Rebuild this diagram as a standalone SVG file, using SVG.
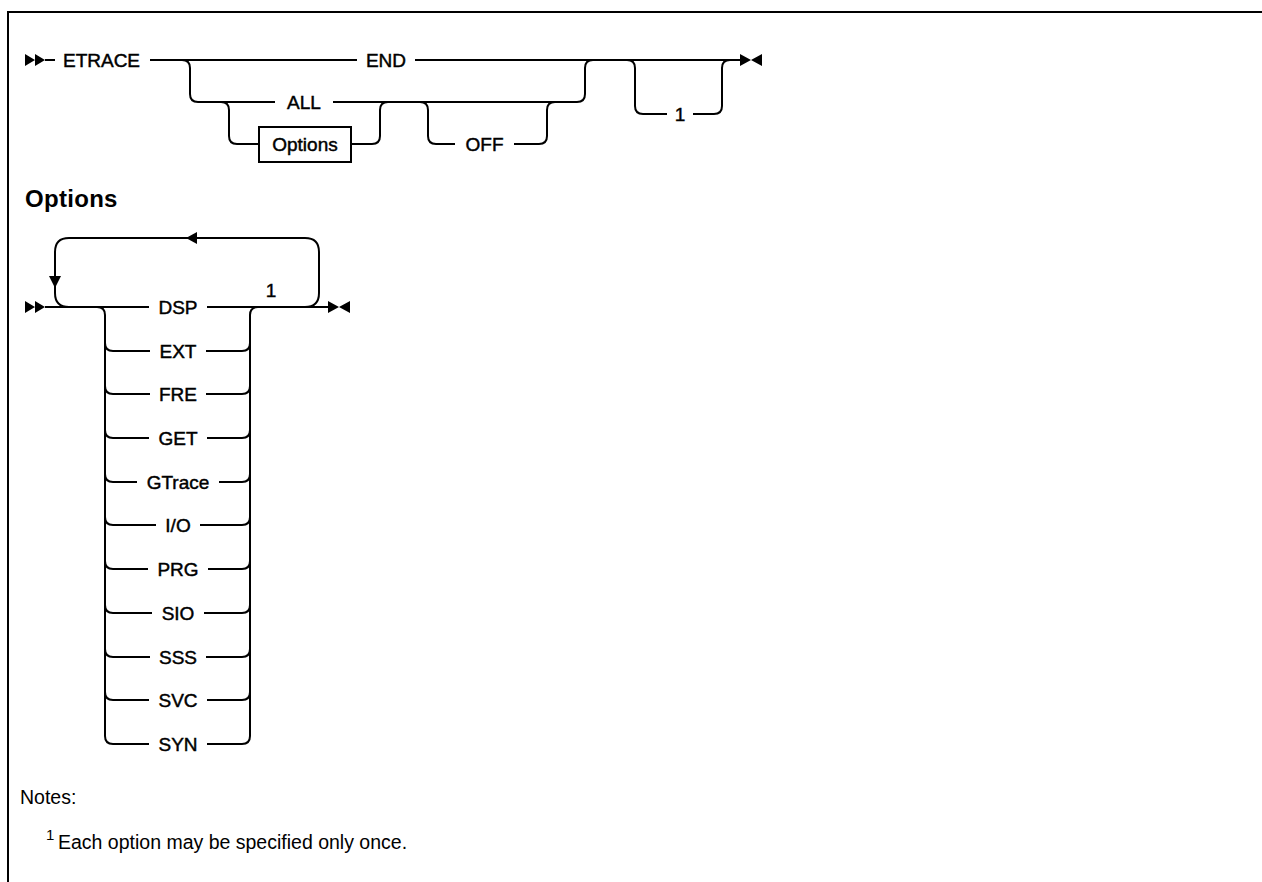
<svg xmlns="http://www.w3.org/2000/svg" width="1262" height="882" viewBox="0 0 1262 882">
<style>
.ln{fill:none;stroke:#000;stroke-width:2}
.ah{fill:#000;stroke:none}
.t{font-family:"Liberation Sans",Arial,sans-serif;font-size:19px;fill:#000;stroke:#000;stroke-width:0.45;text-anchor:middle}
.hd{font-family:"Liberation Sans",Arial,sans-serif;font-size:24px;font-weight:bold;fill:#000;letter-spacing:0.3px}
.nt{font-family:"Liberation Sans",Arial,sans-serif;font-size:19.5px;fill:#000}
.box{fill:#fff;stroke:#000;stroke-width:2}
</style>
<rect x="0" y="0" width="1262" height="882" fill="#fff"/>
<g id="frame">
<path class="ln" d="M7,12 H1262 M8,12 V882"/>
</g>
<g id="connectors">
<path class="ah" d="M25,54 L35,60 L25,66 Z M35,54 L45,60 L35,66 Z"/>
<path class="ln" d="M45,60 H55"/>
<path class="ln" d="M150,60 H357 M415,60 H740"/>
<path class="ln" d="M182,60 Q190,60 190,68 V94 Q190,102 198,102 H275"/>
<path class="ln" d="M333,102 H577 Q585,102 585,94 V68 Q585,60 593,60"/>
<path class="ln" d="M221,102 Q229,102 229,110 V136 Q229,144 237,144 H259"/>
<path class="ln" d="M351,144 H372 Q380,144 380,136 V110 Q380,102 388,102"/>
<path class="ln" d="M420,102 Q428,102 428,110 V136 Q428,144 436,144 H455"/>
<path class="ln" d="M514,144 H539 Q547,144 547,136 V110 Q547,102 555,102"/>
<path class="ln" d="M627,60 Q635,60 635,68 V106 Q635,114 643,114 H667"/>
<path class="ln" d="M693,114 H714 Q722,114 722,106 V68 Q722,60 730,60"/>
<path class="ah" d="M740,54 L751,60 L740,66 Z M762,54 L751,60 L762,66 Z"/>
<path class="ah" d="M25,301 L35,307 L25,313 Z M35,301 L45,307 L35,313 Z"/>
<path class="ln" d="M45,307 H149 M207,307 H328"/>
<path class="ln" d="M305,307 Q319,307 319,293 V252 Q319,238 305,238 H69 Q55,238 55,252 V293 Q55,307 69,307"/>
<path class="ah" d="M186,238 L197,232 L197,244 Z"/>
<path class="ah" d="M55,288 L49,276 L61,276 Z"/>
<path class="ah" d="M328,301 L339,307 L328,313 Z M350,301 L339,307 L350,313 Z"/>
<path class="ln" d="M97,307 Q105,307 105,315 V736 Q105,744 113,744"/>
<path class="ln" d="M258,307 Q250,307 250,315 V736 Q250,744 242,744"/>
<path class="ln" d="M105,343 Q105,351 113,351 H150 M206,351 H242 Q250,351 250,343"/>
<path class="ln" d="M105,386 Q105,394 113,394 H150 M206,394 H242 Q250,394 250,386"/>
<path class="ln" d="M105,430 Q105,438 113,438 H149 M207,438 H242 Q250,438 250,430"/>
<path class="ln" d="M105,474 Q105,482 113,482 H137 M219,482 H242 Q250,482 250,474"/>
<path class="ln" d="M105,517 Q105,525 113,525 H156 M200,525 H242 Q250,525 250,517"/>
<path class="ln" d="M105,561 Q105,569 113,569 H148 M208,569 H242 Q250,569 250,561"/>
<path class="ln" d="M105,605 Q105,613 113,613 H152 M204,613 H242 Q250,613 250,605"/>
<path class="ln" d="M105,649 Q105,657 113,657 H150 M206,657 H242 Q250,657 250,649"/>
<path class="ln" d="M105,692 Q105,700 113,700 H149 M207,700 H242 Q250,700 250,692"/>
<path class="ln" d="M113,744 H149 M207,744 H242"/>
</g>
<g id="n-etrace"><text class="t" x="101.5" y="67">ETRACE</text></g>
<g id="n-end"><text class="t" x="386" y="67">END</text></g>
<g id="n-all"><text class="t" x="304" y="109">ALL</text></g>
<g id="n-options-ref"><rect class="box" x="259" y="127" width="92" height="35"/><text class="t" x="305" y="151">Options</text></g>
<g id="n-off"><text class="t" x="484.5" y="151">OFF</text></g>
<g id="n-note1"><text class="t" x="680" y="121">1</text></g>
<g id="n-heading"><text class="hd" x="25" y="207">Options</text></g>
<g id="n-dsp"><text class="t" x="178" y="314">DSP</text><text class="t" x="271" y="297">1</text></g>
<g id="n-ext"><text class="t" x="178" y="358">EXT</text></g>
<g id="n-fre"><text class="t" x="178" y="401">FRE</text></g>
<g id="n-get"><text class="t" x="178" y="445">GET</text></g>
<g id="n-gtrace"><text class="t" x="178" y="489">GTrace</text></g>
<g id="n-io"><text class="t" x="178" y="532">I/O</text></g>
<g id="n-prg"><text class="t" x="178" y="576">PRG</text></g>
<g id="n-sio"><text class="t" x="178" y="620">SIO</text></g>
<g id="n-sss"><text class="t" x="178" y="664">SSS</text></g>
<g id="n-svc"><text class="t" x="178" y="707">SVC</text></g>
<g id="n-syn"><text class="t" x="178" y="751">SYN</text></g>
<g id="n-notes">
<text class="nt" x="20" y="804">Notes:</text>
<text class="nt" x="46" y="840" style="font-size:15px">1</text>
<text class="nt" x="58" y="849">Each option may be specified only once.</text>
</g>
</svg>
